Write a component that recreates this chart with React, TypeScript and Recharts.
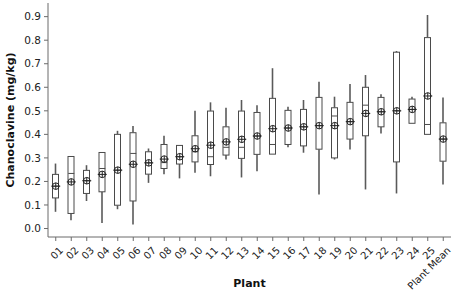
import {
  ComposedChart,
  Bar,
  Line,
  XAxis,
  YAxis,
  Label,
} from 'recharts';

const plants = [
  '01', '02', '03', '04', '05', '06', '07', '08', '09', '10', '11', '12', '13',
  '14', '15', '16', '17', '18', '19', '20', '21', '22', '23', '24', '25', 'Plant Mean',
];
const whiskerLow = [
  0.071, 0.035, 0.117, 0.024, 0.082, 0.017, 0.194, 0.231, 0.213, 0.237, 0.222, 0.293, 0.217,
  0.243, 0.316, 0.345, 0.322, 0.145, 0.293, 0.336, 0.166, 0.404, 0.149, 0.447, 0.400, 0.187,
];
const q1 = [
  0.130, 0.064, 0.149, 0.156, 0.099, 0.117, 0.231, 0.255, 0.274, 0.283, 0.272, 0.312, 0.298,
  0.315, 0.316, 0.357, 0.351, 0.337, 0.300, 0.380, 0.394, 0.432, 0.283, 0.447, 0.400, 0.286,
];
const median = [
  0.180, 0.234, 0.203, 0.255, 0.248, 0.319, 0.279, 0.280, 0.305, 0.326, 0.305, 0.345, 0.345,
  0.393, 0.357, 0.427, 0.432, 0.437, 0.478, 0.454, 0.524, 0.496, 0.500, 0.506, 0.442, 0.380,
];
const q3 = [
  0.230, 0.306, 0.247, 0.323, 0.400, 0.407, 0.326, 0.357, 0.353, 0.394, 0.499, 0.432, 0.499,
  0.493, 0.553, 0.502, 0.506, 0.557, 0.513, 0.536, 0.600, 0.557, 0.749, 0.550, 0.811, 0.449,
];
const whiskerHigh = [
  0.276, 0.306, 0.269, 0.323, 0.415, 0.436, 0.340, 0.394, 0.353, 0.500, 0.536, 0.513, 0.546,
  0.524, 0.681, 0.517, 0.546, 0.624, 0.560, 0.614, 0.652, 0.570, 0.754, 0.560, 0.907, 0.557,
];
const mean = [
  0.180, 0.198, 0.203, 0.230, 0.248, 0.273, 0.279, 0.295, 0.305, 0.339, 0.354, 0.368, 0.379,
  0.393, 0.424, 0.427, 0.432, 0.437, 0.437, 0.454, 0.489, 0.496, 0.500, 0.506, 0.563, 0.380,
];
const yTicks = [0, 0.1, 0.2, 0.3, 0.4, 0.5, 0.6, 0.7, 0.8, 0.9];

// stacked segments: invisible base, lower whisker, box, upper whisker
const data = plants.map((plant, i) => ({
  plant,
  base: whiskerLow[i],
  lower: q1[i] - whiskerLow[i],
  box: q3[i] - q1[i],
  upper: whiskerHigh[i] - q3[i],
  median: median[i],
  mean: mean[i],
}));

const FONT = '"DejaVu Sans", Verdana, sans-serif';
const AXIS = '#6b6b6b';

const Whisker = (props: any) => {
  const { x, y, width, height } = props;
  if (!height) return null;
  const cx = x + width / 2;
  return <line x1={cx} x2={cx} y1={y} y2={y + height} stroke="#5a5a5a" strokeWidth={1.6} />;
};

const BoxShape = (props: any) => {
  const { x, y, width, height } = props;
  return (
    <rect x={x + 0.5} y={y} width={width - 1} height={height} fill="#fff" stroke="#4a4a4a" strokeWidth={1} />
  );
};

const MedianMark = (props: any) => {
  const { cx, cy, index } = props;
  return <line key={`med-${index}`} x1={cx - 3} x2={cx + 3} y1={cy} y2={cy} stroke="#4a4a4a" strokeWidth={1} />;
};

const MeanMark = (props: any) => {
  const { cx, cy, index } = props;
  return (
    <g key={`mean-${index}`}>
      <line x1={cx - 4.5} x2={cx + 4.5} y1={cy} y2={cy} stroke="#222" strokeWidth={1} />
      <circle cx={cx} cy={cy} r={3.3} fill="none" stroke="#222" strokeWidth={1} />
      <line x1={cx} x2={cx} y1={cy - 3.3} y2={cy + 3.3} stroke="#222" strokeWidth={1} />
    </g>
  );
};

const PlantTick = (props: any) => {
  const { x, y, payload } = props;
  return (
    <g transform={`translate(${x + 3},${y + 3})`}>
      <text
        x={0}
        y={0}
        dy="0.7em"
        textAnchor="end"
        transform="rotate(-45)"
        fontSize={10}
        fontFamily={FONT}
        fill="#222"
      >
        {payload.value}
      </text>
    </g>
  );
};

export default function App() {
  return (
    <div style={{ position: 'absolute', left: 0, top: 0, background: '#fff' }}>
      <ComposedChart
        width={454}
        height={293}
        data={data}
        margin={{ top: 3, right: 3, left: 0, bottom: 0 }}
        barSize={7}
      >
        <XAxis
          dataKey="plant"
          interval={0}
          height={56}
          tick={<PlantTick />}
          tickSize={4}
          axisLine={{ stroke: AXIS }}
          tickLine={{ stroke: AXIS }}
        >
          <Label
            content={(p: any) => {
              const vb = p.viewBox;
              return (
                <text
                  x={vb.x + vb.width / 2}
                  y={287}
                  textAnchor="middle"
                  fontSize={11}
                  fontWeight="bold"
                  fontFamily={FONT}
                  fill="#111"
                >
                  Plant
                </text>
              );
            }}
          />
        </XAxis>
        <XAxis xAxisId="top" dataKey="plant" orientation="top" height={0} tick={false} tickLine={false} axisLine={{ stroke: AXIS }} />
        <YAxis
          width={48}
          domain={[-0.036, 0.958]}
          ticks={yTicks}
          tickFormatter={(v: number) => v.toFixed(1)}
          tick={{ fontSize: 10.5, fontFamily: FONT, fill: '#222' }}
          tickSize={4}
          tickMargin={3}
          axisLine={{ stroke: AXIS }}
          tickLine={{ stroke: AXIS }}
        >
          <Label
            content={(p: any) => {
              const vb = p.viewBox;
              const cy = vb.y + vb.height / 2;
              return (
                <text
                  x={10}
                  y={cy}
                  textAnchor="middle"
                  dominantBaseline="central"
                  transform={`rotate(-90, 10, ${cy})`}
                  fontSize={11}
                  fontWeight="bold"
                  fontFamily={FONT}
                  fill="#111"
                >
                  Chanoclavine (mg/kg)
                </text>
              );
            }}
          />
        </YAxis>
        <YAxis yAxisId="right" orientation="right" width={0} domain={[-0.036, 0.958]} tick={false} tickLine={false} axisLine={{ stroke: AXIS }} />
        <Bar dataKey="base" stackId="bp" fill="none" isAnimationActive={false} />
        <Bar dataKey="lower" stackId="bp" shape={<Whisker />} isAnimationActive={false} />
        <Bar dataKey="box" stackId="bp" shape={<BoxShape />} isAnimationActive={false} />
        <Bar dataKey="upper" stackId="bp" shape={<Whisker />} isAnimationActive={false} />
        <Line dataKey="median" stroke="none" dot={MedianMark} activeDot={false} isAnimationActive={false} />
        <Line dataKey="mean" stroke="none" dot={MeanMark} activeDot={false} isAnimationActive={false} />
      </ComposedChart>
    </div>
  );
}
